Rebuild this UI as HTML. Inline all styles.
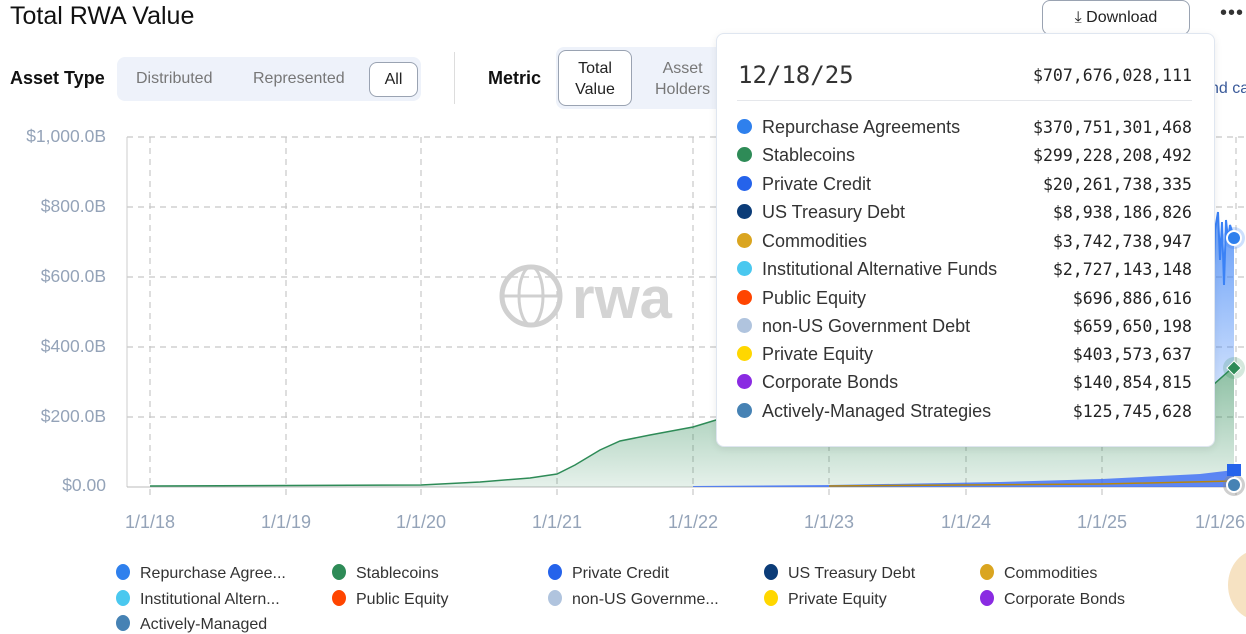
<!DOCTYPE html>
<html><head><meta charset="utf-8"><style>
body{margin:0;width:1246px;height:623px;overflow:hidden;background:#fff;font-family:"Liberation Sans",sans-serif;position:relative}
.abs{position:absolute}
.seg{background:#eef2fa;border-radius:8px}
.btn{background:#fff;border:1px solid #9aa3b2;border-radius:8px;color:#222}
.mono{font-family:"DejaVu Sans Mono","Liberation Mono",monospace}
.lg{position:absolute;font-size:16px;color:#333;white-space:nowrap}
.lg i{display:inline-block;width:14px;height:16px;border-radius:50%;vertical-align:-2px;margin-right:10px}
.tr{position:absolute;left:20px;right:22px;font-size:18px;color:#333}
.tr i{display:inline-block;width:15px;height:15px;border-radius:50%;vertical-align:-1px;margin-right:10px}
.tr span{position:absolute;right:0;font-family:"DejaVu Sans Mono","Liberation Mono",monospace;font-size:16.5px;color:#222;top:1px}
</style></head><body>
<div class="abs" style="left:10px;top:2px;font-size:25px;color:#111">Total RWA Value</div>
<div class="abs btn" style="left:1042px;top:0;width:146px;height:33px;font-size:16px;line-height:33px;text-align:center">⤓ Download</div>
<div class="abs" style="left:1220px;top:2px;font-size:20px;color:#333;letter-spacing:1px">•••</div>
<div class="abs" style="left:10px;top:68px;font-size:18px;font-weight:bold;color:#111">Asset Type</div>
<div class="abs seg" style="left:117px;top:57px;width:304px;height:44px"></div>
<div class="abs" style="left:136px;top:70px;font-size:16px;color:#777">Distributed</div>
<div class="abs" style="left:253px;top:70px;font-size:16px;color:#777">Represented</div>
<div class="abs btn" style="left:369px;top:62px;width:47px;height:33px;font-size:16px;line-height:33px;text-align:center">All</div>
<div class="abs" style="left:454px;top:52px;width:1px;height:52px;background:#ddd"></div>
<div class="abs" style="left:488px;top:68px;font-size:18px;font-weight:bold;color:#111">Metric</div>
<div class="abs seg" style="left:556px;top:47px;width:170px;height:62px"></div>
<div class="abs btn" style="left:558px;top:50px;width:74px;height:56px;font-size:16px;text-align:center;line-height:21px;padding-top:7px;box-sizing:border-box">Total<br>Value</div>
<div class="abs" style="left:655px;top:58px;font-size:16px;color:#777;text-align:center;line-height:21px">Asset<br>Holders</div>
<div class="abs" style="left:1210px;top:80px;font-size:16px;color:#3a5a9a;white-space:nowrap">nd ca</div>
<svg class="abs" style="left:0;top:0" width="1246" height="623">
<defs>
<linearGradient id="g" x1="0" y1="0" x2="0" y2="1"><stop offset="0" stop-color="#2e8b57" stop-opacity=".55"/><stop offset="1" stop-color="#2e8b57" stop-opacity=".12"/></linearGradient>
<linearGradient id="b" x1="0" y1="0" x2="0" y2="1"><stop offset="0" stop-color="#3b82f6" stop-opacity=".8"/><stop offset="1" stop-color="#3b82f6" stop-opacity=".25"/></linearGradient>
</defs>
<g font-size="17.5" fill="#94a3b8" text-anchor="end">
<text x="106" y="142">$1,000.0B</text><text x="106" y="212">$800.0B</text><text x="106" y="282">$600.0B</text><text x="106" y="352">$400.0B</text><text x="106" y="422">$200.0B</text><text x="106" y="491">$0.00</text>
</g>
<g stroke="#c7c7c7" stroke-dasharray="6,5" stroke-width="1.2">
<line x1="127" y1="137" x2="1246" y2="137"/><line x1="127" y1="207" x2="1246" y2="207"/><line x1="127" y1="277" x2="1246" y2="277"/><line x1="127" y1="347" x2="1246" y2="347"/><line x1="127" y1="417" x2="1246" y2="417"/>
<line x1="150" y1="137" x2="150" y2="498"/><line x1="286" y1="137" x2="286" y2="498"/><line x1="421" y1="137" x2="421" y2="498"/><line x1="557" y1="137" x2="557" y2="498"/><line x1="693" y1="137" x2="693" y2="498"/><line x1="829" y1="137" x2="829" y2="498"/><line x1="966" y1="137" x2="966" y2="498"/><line x1="1102" y1="137" x2="1102" y2="498"/><line x1="1236" y1="137" x2="1236" y2="498"/>
</g>
<line x1="127" y1="137" x2="127" y2="487" stroke="#ccc"/>
<line x1="127" y1="487" x2="1240" y2="487" stroke="#bbb"/>
<g font-size="58" fill="#d4d4d4" font-weight="bold"><circle cx="531" cy="296" r="29" fill="none" stroke="#d0d0d0" stroke-width="5"/><ellipse cx="531" cy="296" rx="12" ry="29" fill="none" stroke="#d0d0d0" stroke-width="3"/><line x1="502" y1="296" x2="560" y2="296" stroke="#d0d0d0" stroke-width="3"/><text x="572" y="318">rwa</text></g>
<path d="M1213,300 L1215,230 1218,212 1220,260 1222,222 1224,285 1226,220 1228,240 1230,225 1234,237 L1234,367 1213,385Z" fill="url(#b)"/>
<path d="M1213,300 L1215,230 1218,212 1220,260 1222,222 1224,285 1226,220 1228,240 1230,225 1234,237" fill="none" stroke="#3b82f6" stroke-width="2"/>
<path d="M150,486 L421,485 480,482 530,478 557,474 575,465 600,450 620,441 650,435 693,427 716,420 830,410 1000,400 1100,395 1213,385 1230,370 1234,367 L1234,487 150,487Z" fill="url(#g)"/>
<path d="M150,486 L421,485 480,482 530,478 557,474 575,465 600,450 620,441 650,435 693,427 716,420 830,410 1000,400 1100,395 1213,385 1230,370 1234,367" fill="none" stroke="#2e8b57" stroke-width="1.5"/>
<path d="M693,486 L829,485 1000,482 1102,479 1200,474 1234,470 L1234,487 693,487Z" fill="#3b6cf6" opacity=".8"/>
<path d="M829,486 L1102,484 1234,481" stroke="#b8860b" fill="none" stroke-width="1.5"/>
<circle cx="1234" cy="238" r="11" fill="#3b82f6" opacity=".25"/><circle cx="1234" cy="238" r="7" fill="#2f80ed" stroke="#fff" stroke-width="2"/>
<circle cx="1234" cy="368" r="11" fill="#2e8b57" opacity=".2"/><rect x="1229" y="363" width="10" height="10" fill="#2e8b57" stroke="#fff" transform="rotate(45 1234 368)"/>
<circle cx="1234" cy="485" r="11" fill="#888" opacity=".4"/><circle cx="1234" cy="485" r="7" fill="#4682b4" stroke="#fff" stroke-width="2"/>
<rect x="1227" y="464" width="14" height="12" fill="#2563eb"/>
<g font-size="18" fill="#94a3b8" text-anchor="middle">
<text x="150" y="528">1/1/18</text><text x="286" y="528">1/1/19</text><text x="421" y="528">1/1/20</text><text x="557" y="528">1/1/21</text><text x="693" y="528">1/1/22</text><text x="829" y="528">1/1/23</text><text x="966" y="528">1/1/24</text><text x="1102" y="528">1/1/25</text><text x="1220" y="528">1/1/26</text>
</g>
</svg>
<div class="abs" style="left:716px;top:33px;width:497px;height:412px;background:#fff;border:1px solid #dfe6f0;border-radius:8px;box-shadow:0 2px 8px rgba(0,0,0,.08)">
<div class="abs mono" style="left:21px;top:27px;font-size:24px;color:#333">12/18/25</div>
<div class="abs mono" style="right:22px;top:32px;font-size:16.5px;color:#222">$707,676,028,111</div>
<div class="abs" style="left:20px;right:22px;top:66px;height:1px;background:#e5e7eb"></div>
<div class="tr" style="top:83px"><i style="background:#2f80ed"></i>Repurchase Agreements<span>$370,751,301,468</span></div>
<div class="tr" style="top:111px"><i style="background:#2e8b57"></i>Stablecoins<span>$299,228,208,492</span></div>
<div class="tr" style="top:140px"><i style="background:#2563eb"></i>Private Credit<span>$20,261,738,335</span></div>
<div class="tr" style="top:168px"><i style="background:#0b3c78"></i>US Treasury Debt<span>$8,938,186,826</span></div>
<div class="tr" style="top:197px"><i style="background:#daa520"></i>Commodities<span>$3,742,738,947</span></div>
<div class="tr" style="top:225px"><i style="background:#4ac8ef"></i>Institutional Alternative Funds<span>$2,727,143,148</span></div>
<div class="tr" style="top:254px"><i style="background:#ff4500"></i>Public Equity<span>$696,886,616</span></div>
<div class="tr" style="top:282px"><i style="background:#b0c4de"></i>non-US Government Debt<span>$659,650,198</span></div>
<div class="tr" style="top:310px"><i style="background:#ffd700"></i>Private Equity<span>$403,573,637</span></div>
<div class="tr" style="top:338px"><i style="background:#8a2be2"></i>Corporate Bonds<span>$140,854,815</span></div>
<div class="tr" style="top:367px"><i style="background:#4682b4"></i>Actively-Managed Strategies<span>$125,745,628</span></div>
</div>
<div class="lg" style="left:116px;top:564px"><i style="background:#2f80ed"></i>Repurchase Agree...</div>
<div class="lg" style="left:332px;top:564px"><i style="background:#2e8b57"></i>Stablecoins</div>
<div class="lg" style="left:548px;top:564px"><i style="background:#2563eb"></i>Private Credit</div>
<div class="lg" style="left:764px;top:564px"><i style="background:#0b3c78"></i>US Treasury Debt</div>
<div class="lg" style="left:980px;top:564px"><i style="background:#daa520"></i>Commodities</div>
<div class="lg" style="left:116px;top:590px"><i style="background:#4ac8ef"></i>Institutional Altern...</div>
<div class="lg" style="left:332px;top:590px"><i style="background:#ff4500"></i>Public Equity</div>
<div class="lg" style="left:548px;top:590px"><i style="background:#b0c4de"></i>non-US Governme...</div>
<div class="lg" style="left:764px;top:590px"><i style="background:#ffd700"></i>Private Equity</div>
<div class="lg" style="left:980px;top:590px"><i style="background:#8a2be2"></i>Corporate Bonds</div>
<div class="lg" style="left:116px;top:615px"><i style="background:#4682b4"></i>Actively-Managed</div>
<div class="abs" style="left:1228px;top:550px;width:60px;height:70px;border-radius:50%;background:#f6e2c2"></div>
</body></html>
